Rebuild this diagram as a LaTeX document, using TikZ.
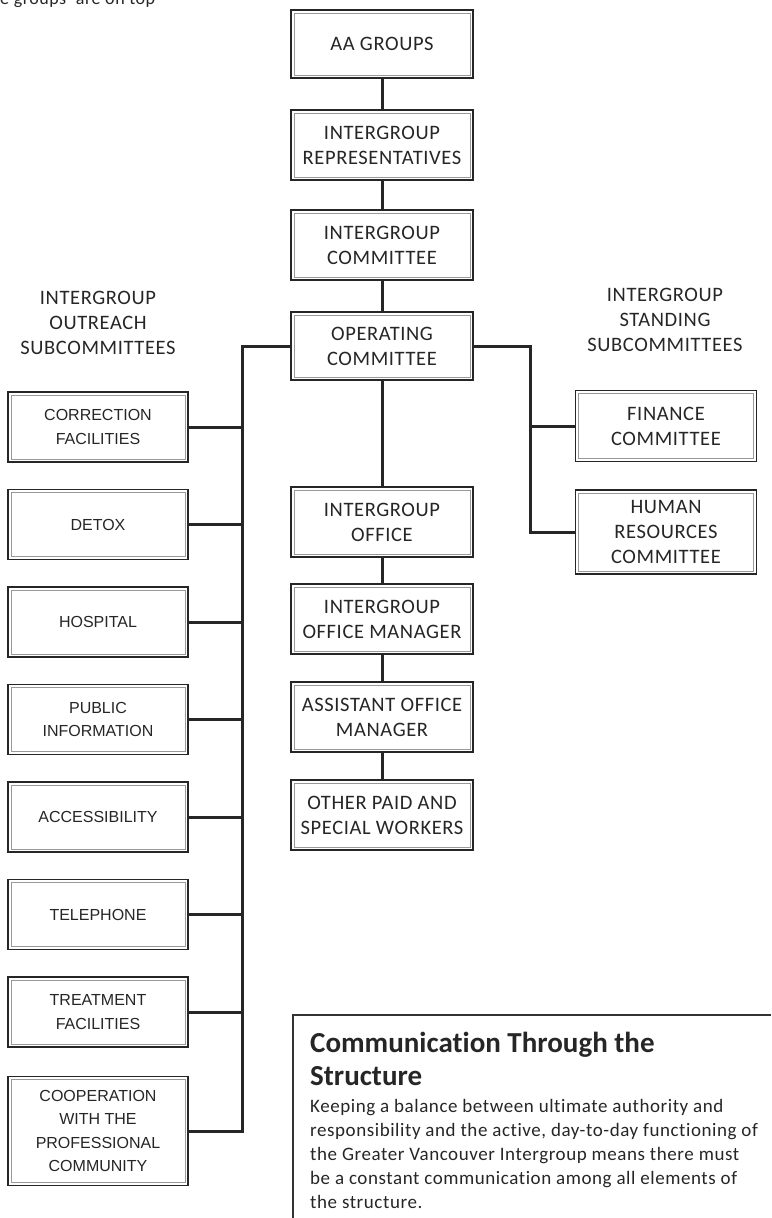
\documentclass[tikz,border=0pt]{standalone}
\usepackage{fontspec}
\setmainfont{Carlito}[Ligatures=NoCommon]
\newfontfamily\spaced{Carlito}[Ligatures=NoCommon, LetterSpace=3]
\newfontfamily\arialfont{Liberation Sans}
\usetikzlibrary{calc}

\begin{document}
\begin{tikzpicture}[x=1pt, y=-1pt,
   box/.style={draw=black!85, line width=1.8pt, fill=white, align=center,
      inner sep=0pt, minimum width=182pt, minimum height=70pt, text=black!85,
      font=\spaced\fontsize{20.5}{25}\selectfont,
      path picture={\draw[black!40, line width=1pt]
         ([shift={(3pt,-3pt)}]path picture bounding box.north west) rectangle
         ([shift={(-3pt,3pt)}]path picture bounding box.south east);}},
   subbox/.style={box, minimum width=180pt, font=\arialfont\fontsize{16}{23.5}\selectfont},
   link/.style={line width=3pt, draw=black!85},
   head/.style={align=center, text=black!85, font=\spaced\fontsize{20.5}{25}\selectfont}]

\useasboundingbox (0,0) rectangle (771,1218);

\node[anchor=base west, inner sep=0pt, text=black!85, font=\spaced\fontsize{18}{20}\selectfont]
   (toptext) at (0,5) {e groups’ are on top};

% main chain
\node[box, minimum height=68pt] (aa) at (382,44) {AA GROUPS};
\node[box] (reps) at (382,145) {INTERGROUP\\REPRESENTATIVES};
\node[box] (igc) at (382,245) {INTERGROUP\\COMMITTEE};
\node[box, minimum height=68pt] (opc) at (382,346) {OPERATING\\COMMITTEE};
\node[box] (office) at (382,522) {INTERGROUP\\OFFICE};
\node[box] (mgr) at (382,619) {INTERGROUP\\OFFICE MANAGER};
\node[box] (asst) at (382,717) {ASSISTANT OFFICE\\MANAGER};
\node[box] (other) at (382,815) {OTHER PAID AND\\SPECIAL WORKERS};

% standing subcommittees
\node[head] (standhead) at (665,320) {INTERGROUP\\STANDING\\SUBCOMMITTEES};
\node[box, minimum width=181pt, minimum height=71pt] (fin) at (666,426) {FINANCE\\COMMITTEE};
\node[box, minimum width=181pt, minimum height=84pt] (hr) at (666,532) {HUMAN\\RESOURCES\\COMMITTEE};

% outreach subcommittees
\node[head] (outhead) at (98,323) {INTERGROUP\\OUTREACH\\SUBCOMMITTEES};
\foreach \name/\txt [count=\i from 0] in {corr/{CORRECTION\\FACILITIES}, detox/DETOX,
      hosp/HOSPITAL, pub/{PUBLIC\\INFORMATION}, acc/ACCESSIBILITY, tel/TELEPHONE,
      treat/{TREATMENT\\FACILITIES}}
   \node[subbox] (\name) at (98,{427+97.5*\i}) {\txt};
\node[subbox, minimum height=109pt] (coop) at (98,1131)
   {COOPERATION\\WITH THE\\PROFESSIONAL\\COMMUNITY};

% connectors
\coordinate (lbus) at (242,346);
\coordinate (rbus) at (530,346);
\draw[link] (aa.south) -- (reps.north);
\draw[link] (reps.south) -- (igc.north);
\draw[link] (igc.south) -- (opc.north);
\draw[link] (opc.south) -- (office.north);
\draw[link] (office.south) -- (mgr.north);
\draw[link] (mgr.south) -- (asst.north);
\draw[link] (asst.south) -- (other.north);
\draw[link] (opc.west) -- (lbus) |- (coop.east);
\foreach \name in {corr,detox,hosp,pub,acc,tel,treat}
   \draw[link] (\name.east) -- (\name.east -| lbus);
\draw[link] (opc.east) -- (rbus) |- (hr.west);
\draw[link] (fin.west) -- (fin.west -| rbus);

% note panel
\draw[black!80, line width=1.3pt] (293,1218) -- (293,1015) -- (771,1015);
\node[anchor=base west, inner sep=0pt, align=left, text=black!85,
      font=\bfseries\fontsize{29}{33}\selectfont]
   (title) at (310,1085) {Communication Through the\\Structure};
\node[anchor=base west, inner sep=0pt, align=left, text=black!85,
      font=\spaced\fontsize{19}{24}\selectfont]
   (note) at (310,1208) {Keeping a balance between ultimate authority and\\
   responsibility and the active, day-to-day functioning of\\
   the Greater Vancouver Intergroup means there must\\
   be a constant communication among all elements of\\
   the structure.};

\end{tikzpicture}
\end{document}
